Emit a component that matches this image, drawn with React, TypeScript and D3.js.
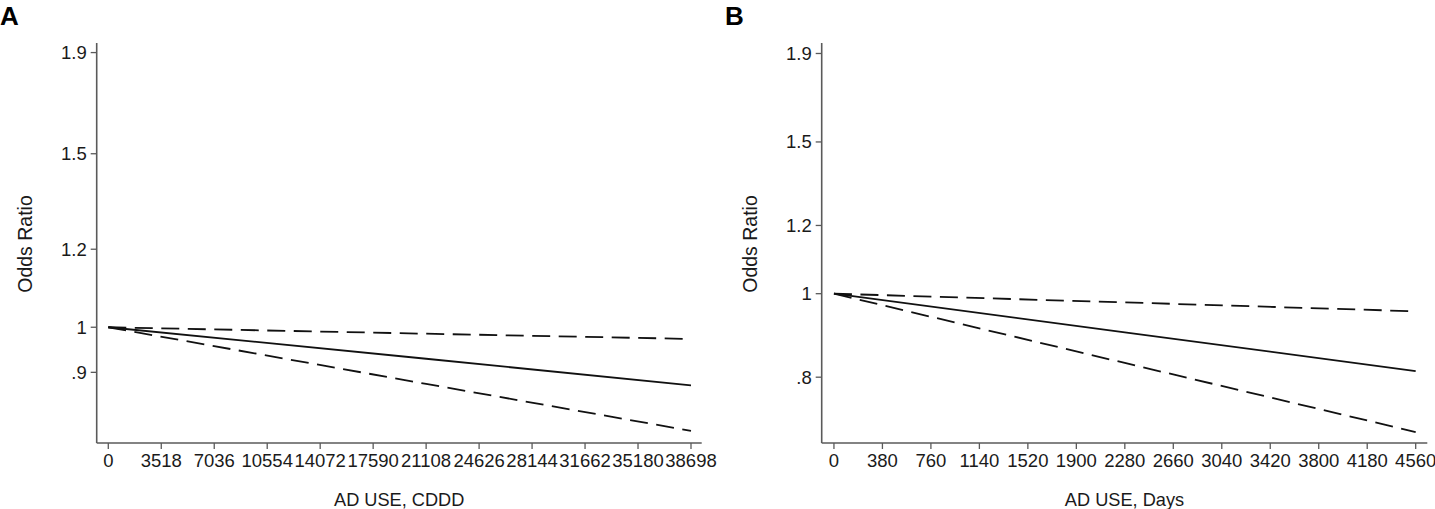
import React from "react";
import * as d3 from "d3";

// Panel A data (AD USE, CDDD)
const ticksA = [0, 3518, 7036, 10554, 14072, 17590, 21108, 24626, 28144, 31662, 35180, 38698];
const xA = [0, 21108, 38698];
const orA = [1, 0.929, 0.873];
const loA = [1, 0.876, 0.785];
const hiA = [1, 0.985, 0.973];
const yTicksA = [0.9, 1, 1.2, 1.5, 1.9];
const yTickLabelsA = [".9", "1", "1.2", "1.5", "1.9"];

// Panel B data (AD USE, Days)
const ticksB = [0, 380, 760, 1140, 1520, 1900, 2280, 2660, 3040, 3420, 3800, 4180, 4560];
const xB = [0, 2280, 4560];
const orB = [1, 0.902, 0.813];
const loB = [1, 0.831, 0.691];
const hiB = [1, 0.977, 0.954];
const yTicksB = [0.8, 1, 1.2, 1.5, 1.9];
const yTickLabelsB = [".8", "1", "1.2", "1.5", "1.9"];

const FONT = "'Liberation Sans', Arial, Helvetica, sans-serif";
const AXIS_COLOR = "#5a5a5a";
const TEXT_COLOR = "#1a1a1a";

type PanelProps = {
  letter: string;
  letterX: number;
  xTicks: number[];
  xDomain: [number, number];
  xRange: [number, number];
  yDomain: [number, number];
  yTicks: number[];
  yTickLabels: string[];
  xs: number[];
  or: number[];
  lo: number[];
  hi: number[];
  xTitle: string;
  yTitleX: number;
};

const TOP = 43;
const BOTTOM = 443;

function Panel(p: PanelProps) {
  const x = d3.scaleLinear().domain(p.xDomain).range(p.xRange);
  const y = d3.scaleLog().domain(p.yDomain).range([BOTTOM, TOP]);
  const line = d3
    .line<[number, number]>()
    .x((d) => x(d[0]))
    .y((d) => y(d[1]));
  const mk = (vals: number[]) => line(p.xs.map((v, i) => [v, vals[i]] as [number, number])) || "";
  const left = p.xRange[0];
  const right = p.xRange[1];
  const midX = (left + right) / 2;
  return (
    <g fontFamily={FONT}>
      <text x={p.letterX} y={25} fontSize={26} fontWeight="bold" fill="#000">
        {p.letter}
      </text>
      {/* y axis */}
      <line x1={left} x2={left} y1={TOP} y2={BOTTOM} stroke={AXIS_COLOR} strokeWidth={1.6} />
      {p.yTicks.map((t, i) => (
        <g key={t}>
          <line x1={left - 6} x2={left} y1={y(t)} y2={y(t)} stroke={AXIS_COLOR} strokeWidth={1.3} />
          <text
            x={left - 10}
            y={y(t)}
            textAnchor="end"
            dominantBaseline="central"
            fontSize={18.5}
            fill={TEXT_COLOR}
          >
            {p.yTickLabels[i]}
          </text>
        </g>
      ))}
      <text
        transform={`translate(${p.yTitleX},${(TOP + BOTTOM) / 2 + 1}) rotate(-90)`}
        textAnchor="middle"
        fontSize={19.5}
        fill={TEXT_COLOR}
      >
        Odds Ratio
      </text>
      {/* x axis */}
      <line x1={left} x2={right} y1={BOTTOM} y2={BOTTOM} stroke={AXIS_COLOR} strokeWidth={1.6} />
      {p.xTicks.map((t) => (
        <g key={t}>
          <line x1={x(t)} x2={x(t)} y1={BOTTOM} y2={BOTTOM + 6} stroke={AXIS_COLOR} strokeWidth={1.3} />
          <text
            x={x(t)}
            y={466.5}
            textAnchor="middle"
            fontSize={18.5}
            fill={TEXT_COLOR}
          >
            {t}
          </text>
        </g>
      ))}
      <text x={midX} y={505.5} textAnchor="middle" fontSize={18.2} fill={TEXT_COLOR}>
        {p.xTitle}
      </text>
      {/* lines */}
      <path d={mk(p.hi)} fill="none" stroke="#111" strokeWidth={1.8} strokeDasharray="18,8.5" />
      <path d={mk(p.lo)} fill="none" stroke="#111" strokeWidth={1.8} strokeDasharray="18,8.5" />
      <path d={mk(p.or)} fill="none" stroke="#111" strokeWidth={1.8} />
    </g>
  );
}

export default function App() {
  return (
    <svg
      width={1435}
      height={509}
      style={{ position: "absolute", left: 0, top: 0, background: "#fff" }}
    >
      <rect width={1435} height={509} fill="#fff" />
      <Panel
        letter="A"
        letterX={0}
        xTicks={ticksA}
        xDomain={[-770, 39409]}
        xRange={[96.7, 701.7]}
        yDomain={[0.763, 1.943]}
        yTicks={yTicksA}
        yTickLabels={yTickLabelsA}
        xs={xA}
        or={orA}
        lo={loA}
        hi={hiA}
        xTitle="AD USE, CDDD"
        yTitleX={32}
      />
      <Panel
        letter="B"
        letterX={725}
        xTicks={ticksB}
        xDomain={[-96, 4651]}
        xRange={[821.7, 1427.3]}
        yDomain={[0.671, 1.954]}
        yTicks={yTicksB}
        yTickLabels={yTickLabelsB}
        xs={xB}
        or={orB}
        lo={loB}
        hi={hiB}
        xTitle="AD USE, Days"
        yTitleX={757}
      />
    </svg>
  );
}
